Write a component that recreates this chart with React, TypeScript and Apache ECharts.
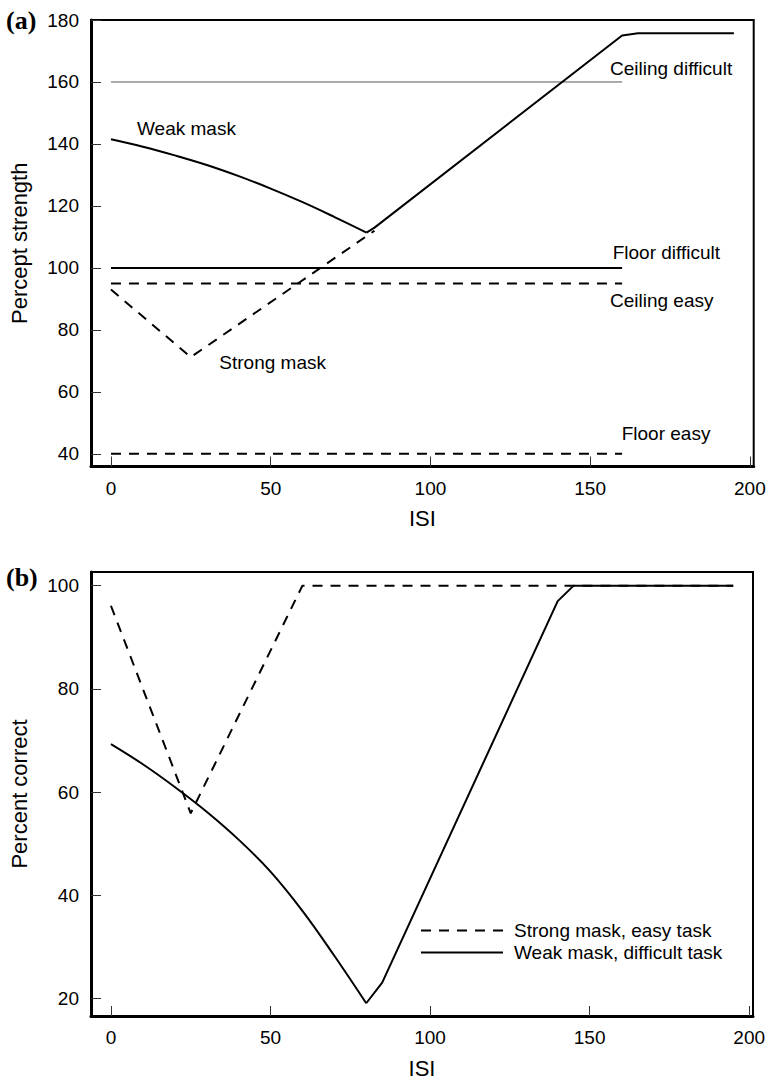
import React, { useEffect, useRef } from "react";
import * as echarts from "echarts";

// ---------- data ----------
const isiTicks = [0, 50, 100, 150, 200];
const perceptTicks = [40, 60, 80, 100, 120, 140, 160, 180];
const correctTicks = [20, 40, 60, 80, 100];

// Panel (a): percept strength vs ISI
const weakMaskCurveA = [
  [0, 141.5], [10, 139.1], [20, 136.3], [30, 133.2], [40, 129.6], [50, 125.6],
  [60, 121.2], [70, 116.4], [80, 111.4],
];
const weakMaskRiseA = [[80, 111.4], [82.5, 113.0], [160, 175], [165, 175.7], [195, 175.7]];
const strongMaskA = [[0, 93.0], [25, 71.2], [82.5, 112.0]];
const ceilingDifficult = [[0, 160], [160, 160]];
const floorDifficult = [[0, 100], [160, 100]];
const ceilingEasy = [[0, 95], [160, 95]];
const floorEasy = [[0, 40], [160, 40]];

// Panel (b): percent correct vs ISI
const strongEasyB = [[0, 96.1], [25, 55.9], [60, 100], [195, 100]];
const weakDifficultCurveB = [
  [0, 69.3], [10, 65.4], [20, 61.0], [30, 56.2], [40, 50.8], [50, 44.6],
  [60, 37.0], [70, 28.3], [80, 19.1],
];
const weakDifficultRiseB = [[80, 19.1], [85, 23.1], [140, 97.0], [145, 100], [195, 100]];

const FONT = '"Liberation Sans", Arial, Helvetica, sans-serif';
const SERIF_BOLD = 'bold 26px "Liberation Serif", "Times New Roman", serif';
const DASH = [10, 8];

function xAxisFor(gridIndex: number) {
  return {
    gridIndex,
    type: "value",
    min: -6.25,
    max: 201.2,
    name: "ISI",
    nameLocation: "middle",
    nameGap: 41,
    nameTextStyle: { fontSize: 22, color: "#000", fontFamily: FONT },
    axisLine: { show: true, onZero: false, lineStyle: { color: "#000", width: 3 } },
    axisTick: { show: true, inside: true, length: 10, customValues: isiTicks, lineStyle: { color: "#333", width: 1 } },
    axisLabel: { customValues: isiTicks, fontSize: 19, color: "#000", fontFamily: FONT, margin: 12 },
    splitLine: { show: false },
  };
}

function yAxisFor(gridIndex: number, name: string, min: number, max: number, ticks: number[]) {
  return {
    gridIndex,
    type: "value",
    min,
    max,
    name,
    nameLocation: "middle",
    nameGap: 61,
    nameTextStyle: { fontSize: 22, color: "#000", fontFamily: FONT },
    axisLine: { show: true, onZero: false, lineStyle: { color: "#000", width: 3 } },
    axisTick: { show: true, inside: true, length: 10, customValues: ticks, lineStyle: { color: "#333", width: 1 } },
    axisLabel: { customValues: ticks, fontSize: 19, color: "#000", fontFamily: FONT, margin: 12 },
    splitLine: { show: false },
  };
}

function lineSeries(
  name: string,
  data: number[][],
  grid: number,
  dashed: boolean,
  width = 2,
  color = "#000",
  smooth: boolean | number = false
) {
  return {
    name,
    type: "line",
    xAxisIndex: grid,
    yAxisIndex: grid,
    data,
    symbol: "none",
    smooth,
    lineStyle: { color, width, type: dashed ? DASH : "solid" },
    itemStyle: { color },
    silent: true,
  };
}

function label(text: string, x: number, y: number) {
  return {
    type: "text",
    x,
    y,
    style: { text, font: `19px ${FONT}`, fill: "#000", textAlign: "left", textVerticalAlign: "middle" },
  };
}

export default function App() {
  const ref = useRef<HTMLDivElement>(null);

  useEffect(() => {
    if (!ref.current) return;
    const chart = echarts.init(ref.current, null, { renderer: "svg" });
    const option = {
      animation: false,
      backgroundColor: "#fff",
      grid: [
        { left: 89.5, right: 16.3, top: 20, height: 446.5, show: true, borderColor: "#000", borderWidth: 2 },
        { left: 89.5, right: 17, top: 572, height: 446.8, show: true, borderColor: "#000", borderWidth: 2 },
      ],
      xAxis: [xAxisFor(0), xAxisFor(1)],
      yAxis: [
        yAxisFor(0, "Percept strength", 35.9, 180, perceptTicks),
        yAxisFor(1, "Percent correct", 16.63, 102.64, correctTicks),
      ],
      legend: {
        data: ["Strong mask, easy task", "Weak mask, difficult task"],
        orient: "vertical",
        left: 420,
        top: 921,
        padding: 0,
        itemWidth: 82,
        itemHeight: 14,
        itemGap: 3,
        selectedMode: false,
        itemStyle: { opacity: 0, borderWidth: 0 },
        textStyle: { fontSize: 19, color: "#000", fontFamily: FONT, padding: [0, 0, 0, 6] },
      },
      series: [
        lineSeries("Ceiling difficult", ceilingDifficult, 0, false, 1, "#555"),
        lineSeries("Floor difficult", floorDifficult, 0, false, 2),
        lineSeries("Ceiling easy", ceilingEasy, 0, true, 2),
        lineSeries("Floor easy", floorEasy, 0, true, 2),
        lineSeries("Strong mask", strongMaskA, 0, true, 2),
        lineSeries("Weak mask", weakMaskCurveA, 0, false, 2, "#000", 0.4),
        lineSeries("Weak mask", weakMaskRiseA, 0, false, 2),
        lineSeries("Strong mask, easy task", strongEasyB, 1, true, 2),
        lineSeries("Weak mask, difficult task", weakDifficultCurveB, 1, false, 2, "#000", 0.4),
        lineSeries("Weak mask, difficult task", weakDifficultRiseB, 1, false, 2),
      ],
      graphic: [
        { type: "text", x: 6, y: 20, style: { text: "(a)", font: SERIF_BOLD, fill: "#000", textVerticalAlign: "middle" } },
        { type: "text", x: 6, y: 577, style: { text: "(b)", font: SERIF_BOLD, fill: "#000", textVerticalAlign: "middle" } },
        label("Weak mask", 137, 128),
        label("Ceiling difficult", 610, 68),
        label("Floor difficult", 612.7, 252.5),
        label("Ceiling easy", 610, 300),
        label("Strong mask", 219.3, 362),
        label("Floor easy", 621.7, 433.5),
      ],
    };
    chart.setOption(option as any);
    return () => chart.dispose();
  }, []);

  return <div ref={ref} style={{ position: "fixed", left: 0, top: 0, width: 770, height: 1080 }} />;
}
